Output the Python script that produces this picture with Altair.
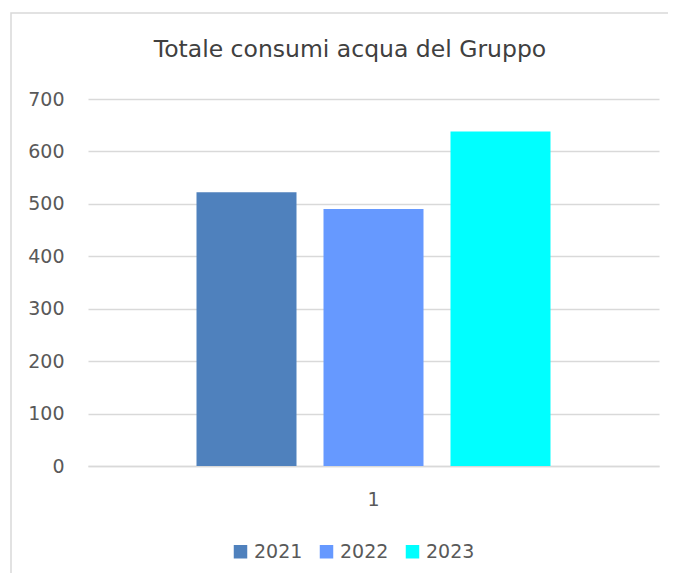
import altair as alt
import pandas as pd

years = ["2021", "2022", "2023"]
values = [522, 490, 638]
category = ["1", "1", "1"]
colors = ["#4f81bd", "#6699ff", "#00ffff"]
y_ticks = [0, 100, 200, 300, 400, 500, 600, 700]
title_text = "Totale consumi acqua del Gruppo"

df = pd.DataFrame({"cat": category, "anno": years, "valore": values})

FONT = "DejaVu Sans"
TXT = "#595959"

border = alt.Chart(alt.Data(values=[{"a": 1}])).mark_rect(
    filled=False, stroke="#d9d9d9", strokeWidth=1.5
).encode(
    x=alt.value(-77), x2=alt.value(585), y=alt.value(-86), y2=alt.value(520)
)

title = alt.Chart(alt.Data(values=[{"t": title_text}])).mark_text(
    font=FONT, fontSize=23.5, color="#404040", baseline="alphabetic", align="center"
).encode(text="t:N", x=alt.value(262), y=alt.value(-42))

bars = alt.Chart(df).mark_bar().encode(
    x=alt.X("cat:N", title=None,
            scale=alt.Scale(paddingInner=0, paddingOuter=0.3065),
            axis=alt.Axis(labelAngle=0, ticks=False, domain=True, domainColor="#d9d9d9",
                          domainWidth=1.5, labelPadding=24, labelFontSize=19,
                          labelColor=TXT, labelFont=FONT)),
    xOffset=alt.XOffset("anno:N", scale=alt.Scale(paddingInner=0.2126, paddingOuter=0)),
    y=alt.Y("valore:Q", title=None,
            scale=alt.Scale(domain=[0, 700], nice=False),
            axis=alt.Axis(values=y_ticks, ticks=False, domain=False, gridColor="#d9d9d9",
                          gridWidth=1.5, labelPadding=24, labelFontSize=19,
                          labelColor=TXT, labelFont=FONT)),
    color=alt.Color("anno:N", title=None,
                    scale=alt.Scale(domain=years, range=colors),
                    legend=alt.Legend(orient="none", legendX=143, legendY=443,
                                      direction="horizontal", symbolType="square",
                                      symbolSize=182, symbolStrokeWidth=0,
                                      labelFontSize=19, labelColor=TXT, labelFont=FONT,
                                      labelOffset=4, columnPadding=14)),
)

chart = alt.layer(border, title, bars).properties(
    width=571, height=367,
    autosize=alt.AutoSizeParams(type="none"),
    padding={"left": 80, "top": 91, "right": 9, "bottom": 107},
).configure_view(stroke=None)

chart.save("out.html", embed_options={"renderer": "svg", "actions": False})
